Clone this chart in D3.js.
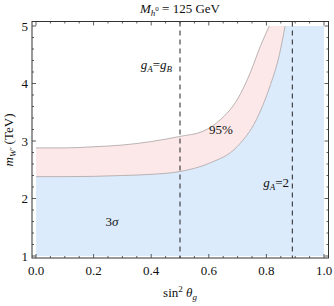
<!DOCTYPE html>
<html>
<head>
<meta charset="utf-8">
<script src="https://cdn.jsdelivr.net/npm/d3@7"></script>
<style>
  body { margin: 0; background: #fff; }
  svg text { font-family: "Liberation Serif", "DejaVu Serif", serif; fill: #111; }
  .it { font-style: italic; }
</style>
</head>
<body>
<svg id="chart" width="334" height="306"></svg>
<script>
// lower boundary (3 sigma region top)
const lowerX = [0, 0.1, 0.2, 0.3, 0.4, 0.5, 0.6, 0.7, 0.765, 0.81, 0.845, 0.865];
const lowerY = [2.38, 2.38, 2.385, 2.40, 2.42, 2.47, 2.61, 2.91, 3.37, 3.92, 4.50, 5.0];
// upper boundary (95% band top)
const upperX = [0, 0.1, 0.2, 0.3, 0.4, 0.5, 0.58, 0.64, 0.70, 0.745, 0.78, 0.81];
const upperY = [2.88, 2.88, 2.90, 2.93, 2.99, 3.08, 3.17, 3.37, 3.73, 4.20, 4.66, 5.0];
const dashedAt = [0.5, 0.89];
const xTicks = [0, 0.2, 0.4, 0.6, 0.8, 1.0];
const yTicks = [1, 2, 3, 4, 5];

const svg = d3.select("#chart");
const x = d3.scaleLinear().domain([0, 1]).range([36, 324]);
const y = d3.scaleLinear().domain([1, 5]).range([256, 26]);

const lower = lowerX.map((v, i) => [v, lowerY[i]]);
const upper = upperX.map((v, i) => [v, upperY[i]]);

const line = d3.line()
  .x(d => x(d[0]))
  .y(d => y(d[1]))
  .curve(d3.curveMonotoneX);

// blue region
const bluePath = line(lower) +
  `L${x(1)},${y(5)}L${x(1)},${y(1)}L${x(0)},${y(1)}Z`;
svg.append("path").attr("d", bluePath).attr("fill", "#dcebfc");

// pink band
const pinkPath = line(lower) + line(upper.slice().reverse()).replace(/^M/, "L") + "Z";
svg.append("path").attr("d", pinkPath).attr("fill", "#fde8e9");

// boundaries
[lower, upper].forEach(pts => {
  svg.append("path")
    .attr("d", line(pts))
    .attr("fill", "none")
    .attr("stroke", "#aaa2a2")
    .attr("stroke-width", 0.8);
});

// dashed lines
svg.selectAll(".dash").data(dashedAt).join("line")
  .attr("x1", d => x(d)).attr("x2", d => x(d))
  .attr("y1", 21.5).attr("y2", 258)
  .attr("stroke", "#222")
  .attr("stroke-width", 1)
  .attr("stroke-dasharray", "5,4");

// frame
const fL = 32, fR = 328.5, fT = 21.5, fB = 258;
svg.append("rect")
  .attr("x", fL).attr("y", fT)
  .attr("width", fR - fL).attr("height", fB - fT)
  .attr("fill", "none").attr("stroke", "#333").attr("stroke-width", 1);

// ticks
const tk = svg.append("g").attr("stroke", "#333").attr("stroke-width", 0.8);
const xMinor = d3.range(0, 1.0001, 0.05);
xMinor.forEach(v => {
  const major = Math.abs(Math.round(v * 5) - v * 5) < 1e-6;
  const len = major ? 4 : 2;
  tk.append("line").attr("x1", x(v)).attr("x2", x(v)).attr("y1", fB).attr("y2", fB - len);
  tk.append("line").attr("x1", x(v)).attr("x2", x(v)).attr("y1", fT).attr("y2", fT + len);
});
const yMinor = d3.range(1, 5.0001, 0.2);
yMinor.forEach(v => {
  const major = Math.abs(Math.round(v) - v) < 1e-6;
  const len = major ? 4 : 2;
  tk.append("line").attr("y1", y(v)).attr("y2", y(v)).attr("x1", fL).attr("x2", fL + len);
  tk.append("line").attr("y1", y(v)).attr("y2", y(v)).attr("x1", fR).attr("x2", fR - len);
});

// tick labels
svg.selectAll(".xl").data(xTicks).join("text")
  .attr("x", d => x(d)).attr("y", 275)
  .attr("text-anchor", "middle").attr("font-size", 13)
  .text(d => d.toFixed(1));
svg.selectAll(".yl").data(yTicks).join("text")
  .attr("x", 28).attr("y", d => y(d) + 4.5)
  .attr("text-anchor", "end").attr("font-size", 13)
  .text(d => d);

// title
const title = svg.append("text").attr("x", 180).attr("y", 13)
  .attr("text-anchor", "middle").attr("font-size", 13);
title.append("tspan").attr("class", "it").text("M");
title.append("tspan").attr("class", "it").attr("font-size", 9).attr("dy", 3).text("h");
title.append("tspan").attr("font-size", 7).attr("dy", -5).text("0");
title.append("tspan").attr("dy", 2).text(" = 125 GeV");

// x axis label
const xl = svg.append("text").attr("x", 180).attr("y", 297)
  .attr("text-anchor", "middle").attr("font-size", 13);
xl.append("tspan").text("sin");
xl.append("tspan").attr("font-size", 9).attr("dy", -5).text("2");
xl.append("tspan").attr("class", "it").attr("dy", 5).text(" θ");
xl.append("tspan").attr("class", "it").attr("font-size", 9).attr("dy", 3).text("g");

// y axis label
const yl = svg.append("text")
  .attr("transform", "translate(13,140) rotate(-90)")
  .attr("text-anchor", "middle").attr("font-size", 13);
yl.append("tspan").attr("class", "it").text("m");
yl.append("tspan").attr("class", "it").attr("font-size", 9).attr("dy", 3).text("W′");
yl.append("tspan").attr("dy", -3).text(" (TeV)");

// annotations
function gSub(t, px, py, parts) {
  const el = svg.append("text").attr("x", px).attr("y", py)
    .attr("text-anchor", "end").attr("font-size", 13);
  parts.forEach(p => {
    el.append("tspan")
      .attr("class", p.it ? "it" : null)
      .attr("font-size", p.sub ? 9 : 13)
      .attr("dy", p.dy || 0)
      .text(p.t);
  });
  return el;
}
gSub(null, 172, 69, [
  {t: "g", it: true}, {t: "A", it: true, sub: true, dy: 3},
  {t: "=", dy: -3}, {t: "g", it: true}, {t: "B", it: true, sub: true, dy: 3}
]);
gSub(null, 289, 187, [
  {t: "g", it: true}, {t: "A", it: true, sub: true, dy: 3},
  {t: "=2", dy: -3}
]);

svg.append("text").attr("x", 221).attr("y", 134)
  .attr("text-anchor", "middle").attr("font-size", 13).text("95%");
const s3 = svg.append("text").attr("x", 112).attr("y", 226)
  .attr("text-anchor", "middle").attr("font-size", 13);
s3.append("tspan").text("3");
s3.append("tspan").attr("class", "it").text("σ");
</script>
</body>
</html>
